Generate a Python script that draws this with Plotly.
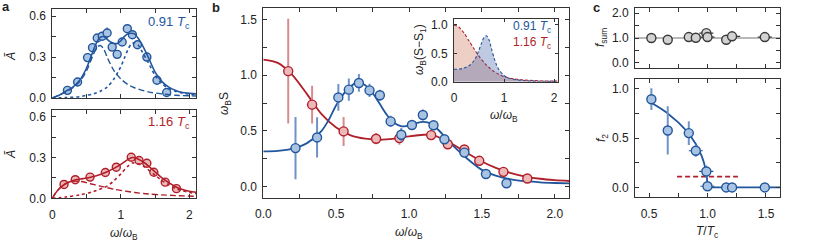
import plotly.graph_objects as go

W, H = 830, 243
BLUE = "#22569c"
BLUE_FILL = "#a9c3e3"
BLUE_ERR = "#6f93c6"
RED = "#b01f2a"
RED_FILL = "#ecb8b8"
RED_ERR = "#d68c8e"
GRAY_FILL = "#d2d2d2"
GRAY_EDGE = "#3a3a3a"
AX = "#333333"
FONT = "Liberation Sans, Arial, sans-serif"

# ---------------- panel a (top, 0.91 Tc) ----------------
a_blue_x = [0.221, 0.369, 0.515, 0.587, 0.656, 0.729, 0.800, 0.874, 0.947, 1.020, 1.095, 1.168, 1.243, 1.380, 1.528, 1.669]
a_blue_y = [0.056, 0.117, 0.296, 0.369, 0.440, 0.453, 0.476, 0.373, 0.320, 0.410, 0.508, 0.464, 0.390, 0.300, 0.130, 0.040]
a_blue_err = [0.03, 0.03, 0.03, 0.025, 0.02, 0.02, 0.04, 0.02, 0.02, 0.02, 0.03, 0.02, 0.02, 0.02, 0.015, 0.015]

a_blue_fit_x = [0, 0.1, 0.2, 0.3, 0.4, 0.5, 0.6, 0.65, 0.7, 0.75, 0.8, 0.85, 0.9, 0.95, 1.0, 1.05, 1.1, 1.15, 1.2, 1.25, 1.3, 1.4, 1.5, 1.6, 1.7, 1.8, 1.9, 2.0, 2.1]
a_blue_fit_y = [0, 0.02, 0.05, 0.08, 0.13, 0.22, 0.35, 0.41, 0.445, 0.45, 0.43, 0.41, 0.40, 0.40, 0.42, 0.45, 0.47, 0.475, 0.47, 0.44, 0.40, 0.30, 0.19, 0.12, 0.08, 0.055, 0.04, 0.035, 0.03]
a_blue_low_x = [0, 0.1, 0.2, 0.3, 0.4, 0.5, 0.6, 0.65, 0.7, 0.75, 0.8, 0.9, 1.0, 1.1, 1.2, 1.4, 1.6, 1.8, 2.1]
a_blue_low_y = [0, 0.02, 0.045, 0.075, 0.12, 0.2, 0.32, 0.37, 0.385, 0.36, 0.3, 0.2, 0.14, 0.1, 0.075, 0.045, 0.03, 0.02, 0.015]
a_blue_high_x = [0, 0.2, 0.4, 0.5, 0.6, 0.7, 0.8, 0.9, 1.0, 1.05, 1.1, 1.15, 1.2, 1.25, 1.3, 1.4, 1.5, 1.6, 1.7, 1.8, 1.9, 2.0, 2.1]
a_blue_high_y = [0, 0.003, 0.01, 0.02, 0.03, 0.05, 0.08, 0.14, 0.23, 0.29, 0.35, 0.395, 0.405, 0.39, 0.35, 0.26, 0.165, 0.105, 0.07, 0.048, 0.036, 0.028, 0.022]

# ---------------- panel a (bottom, 1.16 Tc) ----------------
a_red_x = [0.171, 0.335, 0.551, 0.774, 0.934, 1.152, 1.266, 1.380, 1.482, 1.648, 1.812]
a_red_y = [0.102, 0.137, 0.156, 0.190, 0.229, 0.302, 0.278, 0.258, 0.192, 0.119, 0.071]
a_red_err = [0.03, 0.025, 0.03, 0.02, 0.03, 0.02, 0.02, 0.02, 0.02, 0.015, 0.015]

a_red_fit_x = [0, 0.05, 0.1, 0.17, 0.25, 0.33, 0.45, 0.56, 0.7, 0.8, 0.9, 1.0, 1.1, 1.17, 1.25, 1.35, 1.5, 1.6, 1.7, 1.8, 1.9, 2.0, 2.1]
a_red_fit_y = [0, 0.04, 0.07, 0.10, 0.12, 0.135, 0.145, 0.155, 0.175, 0.195, 0.22, 0.25, 0.285, 0.30, 0.29, 0.26, 0.195, 0.15, 0.115, 0.085, 0.065, 0.052, 0.045]
a_red_low_x = [0, 0.05, 0.1, 0.2, 0.3, 0.4, 0.5, 0.6, 0.7, 0.8, 0.9, 1.0, 1.2, 1.4, 1.6, 1.8, 2.1]
a_red_low_y = [0, 0.04, 0.07, 0.11, 0.125, 0.125, 0.115, 0.102, 0.09, 0.078, 0.067, 0.058, 0.043, 0.032, 0.025, 0.02, 0.015]
a_red_high_x = [0, 0.2, 0.4, 0.6, 0.8, 0.9, 1.0, 1.1, 1.17, 1.25, 1.35, 1.5, 1.6, 1.7, 1.8, 1.9, 2.0, 2.1]
a_red_high_y = [0, 0.01, 0.025, 0.05, 0.09, 0.13, 0.18, 0.235, 0.26, 0.255, 0.23, 0.17, 0.13, 0.10, 0.072, 0.055, 0.043, 0.035]

# ---------------- panel b ----------------
b_blue_x = a_blue_x
b_blue_y = [0.345, 0.441, 0.80, 0.87, 0.93, 0.863, 0.82, 0.585, 0.465, 0.553, 0.642, 0.55, 0.425, 0.305, 0.113, 0.03]
b_blue_err = [0.28, 0.18, 0.12, 0.10, 0.08, 0.06, 0.05, 0.05, 0.06, 0.04, 0.05, 0.04, 0.04, 0.04, 0.03, 0.03]
b_red_x = a_red_x
b_red_y = [1.036, 0.735, 0.495, 0.429, 0.435, 0.462, 0.38, 0.333, 0.231, 0.132, 0.072]
b_red_err = [0.47, 0.17, 0.13, 0.05, 0.06, 0.04, 0.04, 0.03, 0.03, 0.03, 0.02]

b_blue_fit_x = [0, 0.1, 0.2, 0.3, 0.4, 0.45, 0.5, 0.55, 0.6, 0.65, 0.7, 0.75, 0.8, 0.85, 0.9, 0.95, 1.0, 1.05, 1.1, 1.15, 1.2, 1.25, 1.3, 1.4, 1.5, 1.6, 1.7, 1.8, 1.9, 2.0, 2.1]
b_blue_fit_y = [0.315, 0.32, 0.34, 0.39, 0.50, 0.60, 0.73, 0.83, 0.90, 0.935, 0.91, 0.84, 0.74, 0.64, 0.57, 0.54, 0.55, 0.57, 0.58, 0.565, 0.51, 0.44, 0.37, 0.25, 0.15, 0.095, 0.065, 0.048, 0.038, 0.032, 0.028]
b_red_fit_x = [0, 0.1, 0.2, 0.3, 0.4, 0.5, 0.6, 0.7, 0.8, 0.9, 1.0, 1.1, 1.15, 1.2, 1.3, 1.4, 1.5, 1.6, 1.7, 1.8, 1.9, 2.0, 2.1]
b_red_fit_y = [1.14, 1.11, 1.00, 0.83, 0.65, 0.53, 0.46, 0.43, 0.42, 0.43, 0.45, 0.465, 0.465, 0.445, 0.38, 0.30, 0.225, 0.165, 0.12, 0.09, 0.07, 0.058, 0.05]

# inset
ins_red_x = [0, 0.1, 0.2, 0.3, 0.4, 0.5, 0.6, 0.7, 0.8, 0.9, 1.0, 1.2, 1.4, 1.6, 1.8, 2.0, 2.07]
ins_red_y = [1.0, 0.96, 0.86, 0.72, 0.58, 0.45, 0.34, 0.25, 0.18, 0.13, 0.09, 0.05, 0.03, 0.02, 0.012, 0.01, 0.01]
ins_blue_x = [0, 0.1, 0.2, 0.3, 0.4, 0.45, 0.5, 0.55, 0.6, 0.65, 0.7, 0.75, 0.8, 0.85, 0.9, 1.0, 1.1, 1.2, 1.4, 1.6, 2.07]
ins_blue_y = [0.22, 0.22, 0.24, 0.28, 0.37, 0.45, 0.56, 0.68, 0.78, 0.81, 0.74, 0.58, 0.42, 0.30, 0.21, 0.11, 0.06, 0.04, 0.02, 0.01, 0.005]

# ---------------- panel c ----------------
c_T = [0.52, 0.66, 0.84, 0.90, 0.99, 1.00, 1.16, 1.21, 1.49]
c_fsum = [1.0, 0.93, 1.04, 1.01, 1.2, 1.04, 0.93, 1.07, 1.04]
c_fsum_yerr = [0.05, 0.05, 0.05, 0.05, 0.05, 0.05, 0.18, 0.05, 0.05]
c_fsum_xerr = [0, 0, 0.02, 0.03, 0.06, 0.06, 0.03, 0.07, 0.06]
c_f2 = [0.895, 0.578, 0.551, 0.372, 0.162, 0.012, 0.0, 0.0, 0.0]
c_f2_yerr = [0.11, 0.245, 0.12, 0.06, 0.06, 0.02, 0.0, 0.0, 0.0]
c_f2_xerr = [0, 0, 0.02, 0.06, 0.06, 0.06, 0.02, 0.02, 0]
c_fit_x = [0.52, 0.55, 0.6, 0.65, 0.7, 0.75, 0.8, 0.85, 0.9, 0.93, 0.95, 0.97, 0.98, 0.99, 0.995, 1.0, 1.62]
c_fit_y = [0.86, 0.84, 0.80, 0.76, 0.71, 0.66, 0.60, 0.53, 0.44, 0.37, 0.32, 0.25, 0.21, 0.15, 0.10, 0.0, 0.0]
c_ref_x = [0.74, 1.26]
c_ref_y = [0.11, 0.11]
c_one_x = [0.38, 1.62]
c_one_y = [1.0, 1.0]


def dom_x(l, r):
    return [l / W, r / W]


def dom_y(top, bot):
    return [1 - bot / H, 1 - top / H]


fig = go.Figure()


def add_line(x, y, color, dash="solid", width=1.6, xa="x", ya="y", shape="spline", fill=None, fillcolor=None):
    fig.add_trace(go.Scatter(x=x, y=y, mode="lines", xaxis=xa, yaxis=ya, showlegend=False,
                             line=dict(color=color, dash=dash, width=width, shape=shape, smoothing=0.8),
                             fill=fill, fillcolor=fillcolor, hoverinfo="skip"))


def add_pts(x, y, err, fill, edge, errcolor, xa, ya, size=8, xerr=None, errw=1.2, xerrcolor=None):
    kw = {}
    if xerr is not None:
        kw["error_x"] = dict(type="data", array=xerr, visible=True, width=0, thickness=1.2,
                             color=xerrcolor or edge)
    fig.add_trace(go.Scatter(x=x, y=y, mode="markers", xaxis=xa, yaxis=ya, showlegend=False,
                             marker=dict(size=size, color=fill, line=dict(color=edge, width=1.4)),
                             error_y=dict(type="data", array=err, visible=True, width=0,
                                          thickness=errw, color=errcolor), **kw))


# panel a top
add_pts(a_blue_x, a_blue_y, a_blue_err, BLUE_FILL, BLUE, BLUE, "x", "y", size=8)
add_line(a_blue_low_x, a_blue_low_y, BLUE, dash="6px,3px", width=1.4)
add_line(a_blue_high_x, a_blue_high_y, BLUE, dash="dot", width=1.6)
add_line(a_blue_fit_x, a_blue_fit_y, BLUE, width=1.6)
# panel a bottom
add_pts(a_red_x, a_red_y, a_red_err, RED_FILL, RED, RED, "x2", "y2", size=8)
add_line(a_red_low_x, a_red_low_y, RED, dash="6px,3px", width=1.4, xa="x2", ya="y2")
add_line(a_red_high_x, a_red_high_y, RED, dash="dot", width=1.6, xa="x2", ya="y2")
add_line(a_red_fit_x, a_red_fit_y, RED, width=1.6, xa="x2", ya="y2")

# panel b
add_line(b_red_fit_x, b_red_fit_y, RED, width=1.8, xa="x3", ya="y3")
add_line(b_blue_fit_x, b_blue_fit_y, BLUE, width=1.8, xa="x3", ya="y3")
add_pts(b_red_x, b_red_y, b_red_err, RED_FILL, RED, RED_ERR, "x3", "y3", size=9, errw=2)
add_pts(b_blue_x, b_blue_y, b_blue_err, BLUE_FILL, BLUE, BLUE_ERR, "x3", "y3", size=9, errw=2)

# inset
add_line(ins_red_x, ins_red_y, RED, dash="3px,2px", width=1.1, xa="x4", ya="y4",
         fill="tozeroy", fillcolor="rgba(200,110,80,0.33)")
add_line(ins_blue_x, ins_blue_y, BLUE, dash="3px,2px", width=1.1, xa="x4", ya="y4",
         fill="tozeroy", fillcolor="rgba(60,90,165,0.33)")

# panel c top
add_line(c_one_x, c_one_y, "#b8b8b8", width=2, xa="x5", ya="y5", shape="linear")
add_pts(c_T, c_fsum, c_fsum_yerr, GRAY_FILL, GRAY_EDGE, GRAY_EDGE, "x5", "y5", size=9, xerr=c_fsum_xerr)
# panel c bottom
add_line(c_ref_x, c_ref_y, RED, dash="5px,3px", width=1.8, xa="x6", ya="y6", shape="linear")
add_line(c_fit_x, c_fit_y, BLUE, width=1.8, xa="x6", ya="y6", shape="linear")
add_pts(c_T, c_f2, c_f2_yerr, BLUE_FILL, BLUE, BLUE_ERR, "x6", "y6", size=9, xerr=c_f2_xerr, errw=2,
        xerrcolor=BLUE)


def axis(domain, rng, dtick, minor=None, labels=True, fmt=".1f", anchor=None, standoff=3):
    d = dict(domain=domain, range=rng, showline=True, linecolor=AX, linewidth=1, mirror="ticks",
             ticks="inside", ticklen=4, tickcolor=AX, tickwidth=1, showgrid=False, zeroline=False,
             tick0=0, dtick=dtick, tickformat=fmt, showticklabels=labels, automargin=False,
             tickfont=dict(size=12, color="#222", family=FONT), anchor=anchor,
             ticklabelstandoff=standoff)
    if minor is not None:
        d["minor"] = dict(ticks="inside", ticklen=4, tickcolor=AX, dtick=minor, tick0=0, showgrid=False)
    return d


ax_l, ax_r = 52.3, 196.2
b_l, b_r = 263.3, 569.3
c_l, c_r = 635, 780

fig.update_layout(
    width=W, height=H, margin=dict(l=0, r=0, t=0, b=0, autoexpand=False),
    paper_bgcolor="white", plot_bgcolor="white", font=dict(family=FONT, size=12, color="#222"),
    xaxis=axis(dom_x(ax_l, ax_r), [0, 2.1], 1, 0.5, labels=False, fmt="d", anchor="y"),
    yaxis=axis(dom_y(9.3, 98), [0, 0.65], 0.3, 0.15, anchor="x"),
    xaxis2=axis(dom_x(ax_l, ax_r), [0, 2.1], 1, 0.5, fmt="d", anchor="y2", standoff=5),
    yaxis2=axis(dom_y(110, 198.3), [0, 0.65], 0.3, 0.15, anchor="x2"),
    xaxis3=axis(dom_x(b_l, b_r), [0, 2.1], 0.5, 0.25, anchor="y3", standoff=5),
    yaxis3=axis(dom_y(8.3, 197.7), [-0.1, 1.6], 0.5, 0.25, anchor="x3"),
    xaxis4=axis(dom_x(454, 557.5), [0, 2.07], 1, None, fmt="d", anchor="y4", standoff=5),
    yaxis4=axis(dom_y(19.3, 81.7), [0, 1.1], 0.5, None, anchor="x4"),
    xaxis5=axis(dom_x(c_l, c_r), [0.38, 1.62], 0.5, 0.25, labels=False, anchor="y5"),
    yaxis5=axis(dom_y(8.3, 68.3), [-0.22, 2.2], 1, 0.5, anchor="x5"),
    xaxis6=axis(dom_x(c_l, c_r), [0.38, 1.62], 0.5, 0.25, anchor="y6", standoff=5),
    yaxis6=axis(dom_y(79, 197.3), [-0.1, 1.1], 0.5, 0.25, anchor="x6"),
)
for k in ["xaxis4", "yaxis4"]:
    fig.layout[k].ticklen = 3


def note(px, py, text, size=12, color="#222", angle=0, xanchor="center", bold=False):
    if bold:
        text = "<b>" + text + "</b>"
    fig.add_annotation(x=px / W, y=1 - py / H, xref="paper", yref="paper", text=text, showarrow=False,
                       font=dict(size=size, color=color, family=FONT), textangle=angle,
                       xanchor=xanchor, yanchor="middle")


W_LABEL = "<i>ω</i>/<i>ω</i><sub>B</sub>"
note(6, 7, "a", size=13, bold=True)
note(216, 8, "b", size=13, bold=True)
note(596, 8, "c", size=13, bold=True)
note(11, 57, "<i>Ã</i>", angle=-90)
note(11, 155, "<i>Ã</i>", angle=-90)
note(124, 234, W_LABEL)
note(192, 22, "0.91 <i>T</i><sub>c</sub>", size=13, color=BLUE, xanchor="right")
note(192, 122, "1.16 <i>T</i><sub>c</sub>", size=13, color=RED, xanchor="right")
note(225, 104, "<i>ω</i><sub>B</sub>S", angle=-90)
note(409, 233, W_LABEL)
note(420, 49, "<i>ω</i><sub>B</sub>(S−S<sub>1</sub>)", angle=-90)
note(504, 116, W_LABEL)
note(553, 27, "0.91 <i>T</i><sub>c</sub>", color=BLUE, xanchor="right")
note(553, 43, "1.16 <i>T</i><sub>c</sub>", color=RED, xanchor="right")
note(601, 38, "<i>f</i><sub>sum</sub>", angle=-90)
note(602, 138, "<i>f</i><sub>2</sub>", angle=-90)
note(707, 232, "<i>T</i>/<i>T</i><sub>c</sub>")

fig.write_html("out.html", config={"displayModeBar": False},
               post_script="document.body.style.margin='0';document.body.style.overflow='hidden';")
